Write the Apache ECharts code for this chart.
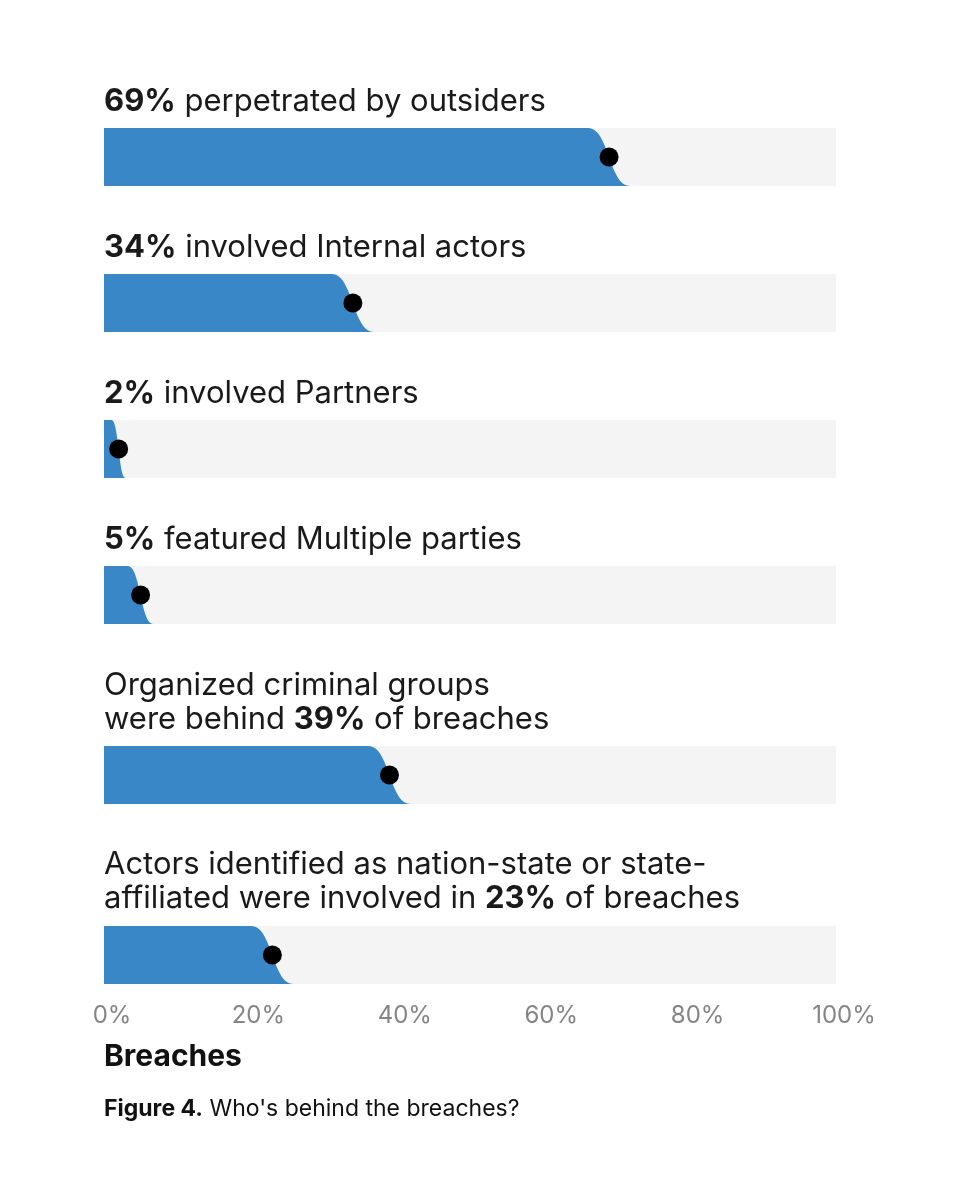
<!DOCTYPE html>
<html>
<head>
<meta charset="utf-8">
<script src="https://cdn.jsdelivr.net/npm/echarts@6/dist/echarts.min.js"></script>
<style>
  html, body { margin: 0; padding: 0; background: #ffffff; }
  #chart { width: 972px; height: 1200px; }
</style>
</head>
<body>
<div id="chart"></div>
<script>
// ---- data ----
const values = [69, 34, 2, 5, 39, 23];
const labelPre = [
  '', '', '', '',
  'Organized criminal groups\nwere behind ',
  'Actors identified as nation-state or state-\naffiliated were involved in '
];
const labelBold = ['69%', '34%', '2%', '5%', '39%', '23%'];
const labelPost = [
  ' perpetrated by outsiders',
  ' involved Internal actors',
  ' involved Partners',
  ' featured Multiple parties',
  ' of breaches',
  ' of breaches'
];
const tickLabels = ['0%', '20%', '40%', '60%', '80%', '100%'];
const axisTitle = 'Breaches';
const figLabel = 'Figure 4.';
const figCaption = " Who's behind the breaches?";

// ---- layout (not data) ----
const barTops = [128, 274, 420, 566, 746, 926];
const labelTops = [85, 231, 377, 523, 669, 848];
const barH = 58;
const gridLeft = 104, gridWidth = 732;
const BLUE = '#3a87c7', BG = '#f4f4f4';
const FONT = 'Inter, "Noto Sans", sans-serif';

const chart = echarts.init(document.getElementById('chart'), null, { renderer: 'canvas' });

const grids = [], xAxes = [], yAxes = [], series = [], titles = [];
values.forEach((v, i) => {
  grids.push({ left: gridLeft, width: gridWidth, top: barTops[i], height: barH });
  const last = i === values.length - 1;
  xAxes.push({
    gridIndex: i, type: 'value', min: 0, max: 100, interval: 20,
    axisLine: { show: false }, axisTick: { show: false }, splitLine: { show: false },
    axisLabel: {
      show: last, margin: 20, color: '#858585', fontSize: 24, fontFamily: FONT,
      padding: [0, 0, 0, 16],
      formatter: (val) => tickLabels[Math.round(val / 20)]
    }
  });
  yAxes.push({
    gridIndex: i, type: 'category', data: ['a'], show: false
  });
  series.push({
    type: 'custom', xAxisIndex: i, yAxisIndex: i,
    data: [[v, 0]],
    renderItem: function (params, api) {
      const p0 = api.coord([0, 0]);
      const p1 = api.coord([100, 0]);
      const pv = api.coord([api.value(0), 0]);
      const band = api.size([0, 1])[1];
      const top = pv[1] - band / 2, bot = pv[1] + band / 2;
      const x0 = p0[0], xv = pv[0];
      const w = Math.min(21, Math.max(7, (xv - x0) * 0.35));
      const a = Math.max(x0, xv - w), b = xv + w;
      const d = 'M' + x0 + ' ' + top + ' L' + a + ' ' + top +
        ' C' + xv + ' ' + top + ' ' + xv + ' ' + bot + ' ' + b + ' ' + bot +
        ' L' + x0 + ' ' + bot + ' Z';
      return {
        type: 'group',
        children: [
          { type: 'rect', shape: { x: x0, y: top, width: p1[0] - x0, height: band }, style: { fill: BG } },
          { type: 'path', shape: { pathData: d }, style: { fill: BLUE } }
        ]
      };
    }
  });
  series.push({
    type: 'scatter', xAxisIndex: i, yAxisIndex: i,
    data: [[v, 0]], symbolSize: 19, z: 5,
    itemStyle: { color: '#000000', opacity: 1 }, silent: true
  });
  titles.push({
    left: gridLeft, top: labelTops[i], padding: 0,
    text: labelPre[i] + '{b|' + labelBold[i] + '}' + labelPost[i],
    textStyle: {
      fontFamily: FONT, fontSize: 31, fontWeight: 'normal', color: '#1a1a1a', lineHeight: 34,
      rich: { b: { fontFamily: FONT, fontSize: 31, fontWeight: 'bold', color: '#1a1a1a', lineHeight: 34 } }
    }
  });
});

titles.push({
  left: gridLeft, top: 1042, padding: 0, text: axisTitle,
  textStyle: { fontFamily: FONT, fontSize: 30, fontWeight: 'bold', color: '#111' }
});
titles.push({
  left: gridLeft, top: 1098, padding: 0,
  text: '{b|' + figLabel + '}' + figCaption,
  textStyle: {
    fontFamily: FONT, fontSize: 23, fontWeight: 'normal', color: '#111',
    rich: { b: { fontFamily: FONT, fontSize: 23, fontWeight: 'bold', color: '#111' } }
  }
});

chart.setOption({
  backgroundColor: '#ffffff',
  animation: false,
  title: titles,
  grid: grids,
  xAxis: xAxes,
  yAxis: yAxes,
  series: series
});
</script>
</body>
</html>
